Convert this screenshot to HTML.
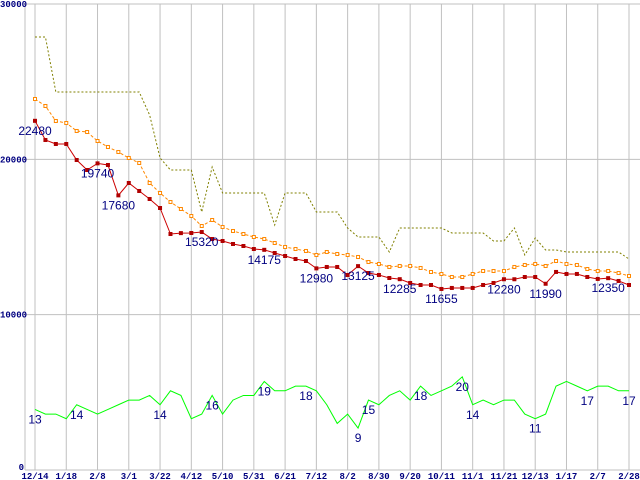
<!DOCTYPE html>
<html><head><meta charset="utf-8"><style>
html,body{margin:0;padding:0;background:#fff;}
svg{display:block;}
</style></head><body>
<svg id="chart" width="640" height="480" xmlns="http://www.w3.org/2000/svg"></svg>
<script>
const xTickLabels=["12/14","1/18","2/8","3/1","3/22","4/12","5/10","5/31","6/21","7/12","8/2","8/30","9/20","10/11","11/1","11/21","12/13","1/17","2/7","2/28"];
const yTicks=[0,10000,20000,30000];
const redValues=[22480,21245,20988,20988,19957,19313,19740,19636,17680,18477,17962,17447,16867,15193,15250,15258,15320,14872,14743,14550,14421,14227,14175,13970,13777,13584,13455,12980,13070,13070,12554,13125,12682,12554,12360,12285,12040,11910,11910,11655,11720,11720,11720,11910,12040,12280,12280,12425,12425,11990,12750,12620,12620,12425,12300,12350,12170,11910];
const orangeValues=[23885,23434,22468,22340,21825,21760,21180,20795,20473,20087,19765,18477,17833,17254,16803,16352,15708,16095,15644,15387,15193,15000,14872,14614,14357,14228,14100,13842,14035,13906,13842,13713,13391,13262,13070,13134,13134,13005,12747,12618,12425,12425,12618,12811,12811,12811,13070,13198,13262,13134,13455,13262,13198,12940,12811,12811,12683,12490];
const oliveValues=[27876,27876,24335,24335,24335,24335,24335,24335,24335,24335,24335,22855,20087,19313,19313,19313,16610,19507,17833,17833,17833,17833,17833,15773,17833,17833,17833,16610,16610,16610,15580,15000,15000,15000,14035,15580,15580,15580,15580,15580,15258,15258,15258,15258,14743,14743,15580,13842,14936,14164,14164,14035,14035,14035,14035,14035,14035,13584];
const greenValues=[13,12,12,11,14,13,12,13,14,15,15,16,14,17,16,11,12,16,12,15,16,16,19,17,17,18,18,17,14,10,12,9,15,14,16,17,15,18,16,17,18,20,14,15,14,15,15,12,11,12,18,19,18,17,18,18,17,17];
const redLabelIdx=[0,6,8,16,22,27,31,35,39,45,49,55];
const greenLabelIdx=[0,4,12,17,22,26,31,32,37,41,42,48,53,57];
const GREEN_SCALE=300;

const svg=document.getElementById('chart');
const NS='http://www.w3.org/2000/svg';
const X0=35, DX=(629-35)/57, Y0=470, YTOP=4, YMAX=30000;
function xs(i){return X0+i*DX;}
function ys(v){return Y0-v*(Y0-YTOP)/YMAX;}
function mk(tag,attrs,parent){const e=document.createElementNS(NS,tag);for(const k in attrs)e.setAttribute(k,attrs[k]);(parent||svg).appendChild(e);return e;}

const grid=mk('g',{});


yTicks.forEach(v=>{
  if(v>0){const l=mk('line',{x1:25,x2:640,y1:ys(v),y2:ys(v),stroke:'#c0c0c0','stroke-width':1},grid);
  
  }
});
xTickLabels.forEach((t,k)=>{
  const x=xs(k*3);
  const l=mk('line',{x1:x,x2:x,y1:YTOP,y2:Y0,stroke:'#c0c0c0','stroke-width':1},grid);
  
  
  const tx=mk('text',{x:x,y:479,'text-anchor':'middle','font-family':'Liberation Mono, monospace','font-size':9,'font-weight':'bold',fill:'#000080'});
  tx.textContent=t;
  
  
});
const ax=mk('line',{x1:25,x2:25,y1:YTOP,y2:Y0,stroke:'#c0c0c0'});


const bx=mk('line',{x1:25,x2:640,y1:Y0,y2:Y0,stroke:'#c0c0c0'});


yTicks.forEach(v=>{
  const t=mk('text',{x:v===0?24:0,y:ys(v)+(v===0?0:3),'text-anchor':v===0?'end':'start','font-family':'Liberation Mono, monospace','font-size':9,'font-weight':'bold',fill:'#000080'});
  t.textContent=String(v);
  
  
});

function poly(vals,yf,attrs,name){
  const p=mk('polyline',Object.assign({points:vals.map((v,i)=>xs(i)+','+yf(v)).join(' '),fill:'none'},attrs));
  
  
  return p;
}
const gy=v=>ys(v*GREEN_SCALE);
poly(oliveValues,ys,{stroke:'#808000','stroke-width':1,'stroke-dasharray':'2,2'},'olive-series-line');
poly(orangeValues,ys,{stroke:'#ff8800','stroke-width':1,'stroke-dasharray':'3,2'},'orange-series-line');
orangeValues.forEach((v,i)=>{
  const r=mk('rect',{x:xs(i)-1.5,y:ys(v)-1.5,width:3,height:3,fill:'#fff',stroke:'#ff8800','stroke-width':1});
  
  
});
poly(redValues,ys,{stroke:'#cc0000','stroke-width':1},'red-series-line');
redValues.forEach((v,i)=>{
  const r=mk('rect',{x:xs(i)-2,y:ys(v)-2,width:4,height:4,fill:'#b00000'});
  
  
});
poly(greenValues,gy,{stroke:'#00ff00','stroke-width':1},'green-series-line');

function label(x,y,txt,name){
  const t=mk('text',{x:x,y:y,'text-anchor':'middle','font-family':'Liberation Sans, sans-serif','font-size':12,fill:'#000080'});
  t.textContent=txt;
  
  
}
redLabelIdx.forEach(i=>label(xs(i),ys(redValues[i])+14,String(redValues[i]),'red-value-label'));
greenLabelIdx.forEach(i=>label(xs(i),gy(greenValues[i])+14,String(greenValues[i]),'green-value-label'));
</script>
</body></html>
